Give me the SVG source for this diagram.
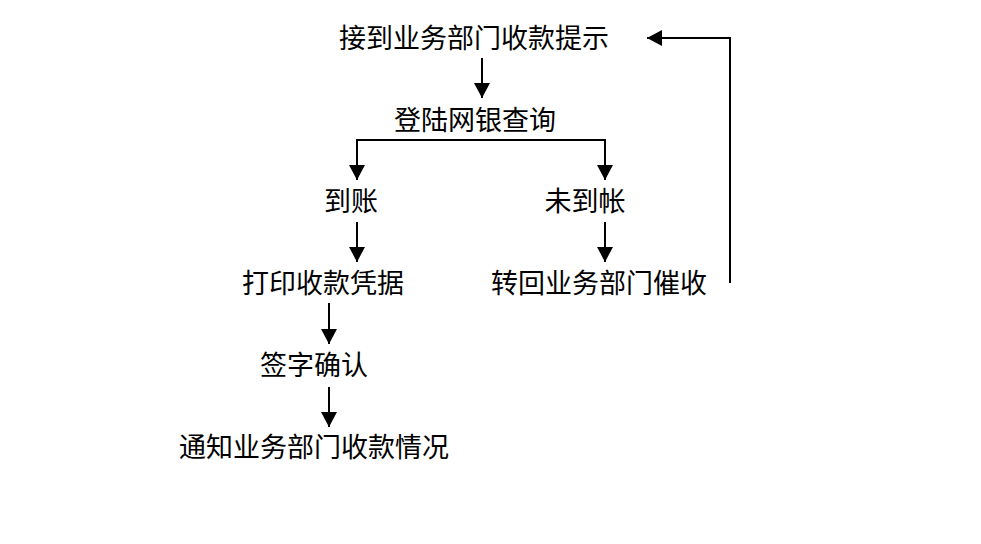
<svg xmlns="http://www.w3.org/2000/svg" width="981" height="544" viewBox="0 0 981 544">
<style>
text{font-family:"Noto Sans CJK SC","Noto Sans CJK JP",sans-serif;font-size:27px;fill:#000;text-anchor:middle;dominant-baseline:central}
.c{fill:none;stroke:#000;stroke-width:2}
</style>
<defs>
<marker id="ah" markerUnits="userSpaceOnUse" markerWidth="16" markerHeight="16" viewBox="0 0 15 16" refX="15" refY="8" orient="auto">
<path d="M0,0 L15,8 L0,16 Z" fill="#000"/>
</marker>
</defs>
<rect width="981" height="544" fill="#fff"/>
<g id="connectors">
<path class="c" d="M482,58 V98" marker-end="url(#ah)"/>
<path class="c" d="M357,180 V140 H605 V180" />
<path class="c" d="M357,141 V180" marker-end="url(#ah)"/>
<path class="c" d="M605,141 V180" marker-end="url(#ah)"/>
<path class="c" d="M357,222 V262" marker-end="url(#ah)"/>
<path class="c" d="M605,222 V262" marker-end="url(#ah)"/>
<path class="c" d="M329,303 V344" marker-end="url(#ah)"/>
<path class="c" d="M329,387 V427" marker-end="url(#ah)"/>
<path class="c" d="M730,283 V38 H647" marker-end="url(#ah)"/>
</g>
<g id="n1"><text x="474" y="36">接到业务部门收款提示</text></g>
<g id="n2"><text x="475" y="118">登陆网银查询</text></g>
<g id="n3"><text x="351" y="199">到账</text></g>
<g id="n4"><text x="585" y="199">未到帐</text></g>
<g id="n5"><text x="323" y="281">打印收款凭据</text></g>
<g id="n6"><text x="599" y="281">转回业务部门催收</text></g>
<g id="n7"><text x="314" y="363">签字确认</text></g>
<g id="n8"><text x="314" y="445">通知业务部门收款情况</text></g>
</svg>
